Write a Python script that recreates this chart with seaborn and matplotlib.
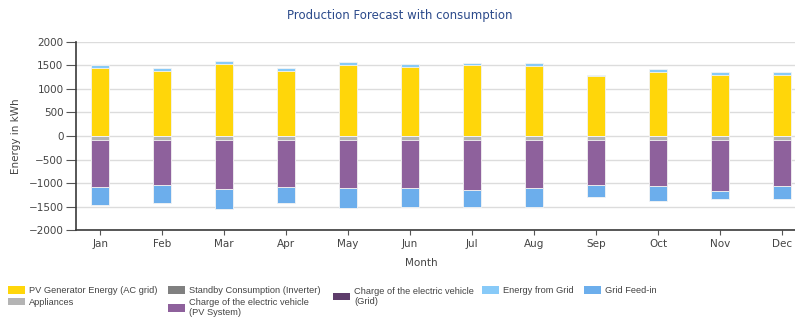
import numpy as np
import pandas as pd
import seaborn as sns
from matplotlib import pyplot as plt
from matplotlib.patches import Patch

# Monthly values in kWh (positive = production/supply, negative = consumption)
months = ["Jan", "Feb", "Mar", "Apr", "May", "Jun",
          "Jul", "Aug", "Sep", "Oct", "Nov", "Dec"]
pv_energy = [1450, 1390, 1525, 1390, 1510, 1475, 1510, 1485, 1270, 1370, 1305, 1305]
energy_from_grid = [50, 45, 65, 55, 60, 50, 45, 70, 35, 45, 65, 45]
standby = [0, 0, 0, 0, 0, 0, 0, 0, 0, 0, 0, 0]
appliances = [-95, -75, -95, -95, -95, -95, -95, -95, -95, -95, -95, -95]
ev_pv = [-995, -975, -1040, -995, -1020, -1020, -1060, -1020, -955, -975, -1080, -975]
ev_grid = [0, 0, 0, 0, 0, 0, 0, 0, 0, 0, 0, 0]
grid_feed_in = [-385, -365, -425, -325, -425, -385, -360, -400, -240, -320, -155, -265]

colors = {
    "PV Generator Energy (AC grid)": "#FFD60A",
    "Appliances": "#B4B4B4",
    "Standby Consumption (Inverter)": "#808080",
    "Charge of the electric vehicle\n(PV System)": "#8E619C",
    "Charge of the electric vehicle\n(Grid)": "#5E3D6B",
    "Energy from Grid": "#88CAF8",
    "Grid Feed-in": "#6CAEEC",
}

df = pd.DataFrame({
    "Month": months,
    "pv": pv_energy,
    "grid": energy_from_grid,
    "standby": standby,
    "appl": appliances,
    "ev_pv": ev_pv,
    "ev_grid": ev_grid,
    "feed": grid_feed_in,
})

# cumulative stacks, drawn from the outermost segment inwards
df["pos_top"] = df["pv"] + df["grid"]
df["neg_1"] = df["standby"] + df["appl"]
df["neg_2"] = df["neg_1"] + df["ev_pv"]
df["neg_3"] = df["neg_2"] + df["ev_grid"]
df["neg_4"] = df["neg_3"] + df["feed"]

sns.set_style("white")
plt.rcParams["font.family"] = ["DejaVu Sans"]

fig = plt.figure(figsize=(7.95, 3.2), dpi=100)
ax = fig.add_axes([0.0956, 0.281, 0.9044, 0.588])

layers = [
    ("pos_top", "Energy from Grid"),
    ("pv", "PV Generator Energy (AC grid)"),
    ("neg_4", "Grid Feed-in"),
    ("neg_3", "Charge of the electric vehicle\n(Grid)"),
    ("neg_2", "Charge of the electric vehicle\n(PV System)"),
    ("neg_1", "Appliances"),
    ("standby", "Standby Consumption (Inverter)"),
]
for col, name in layers:
    sns.barplot(data=df, x="Month", y=col, color=colors[name], width=0.3,
                saturation=1, edgecolor="#F4F4F4", linewidth=0.6, ax=ax,
                zorder=3)

ax.set_xlim(-0.39, 11.21)
ax.set_ylim(-2000, 2000)
ax.set_yticks(np.arange(-2000, 2001, 500))
ax.yaxis.grid(True, color="#DCDCDC", linewidth=1, zorder=0)
ax.set_axisbelow(True)
for s in ["top", "right"]:
    ax.spines[s].set_visible(False)
for s in ["left", "bottom"]:
    ax.spines[s].set_color("#3A3A3A")
    ax.spines[s].set_linewidth(1.2)
ax.tick_params(axis="y", left=True, length=7, width=0.8, color="#555555",
               labelsize=7.5, labelcolor="#444444", pad=2)
ax.tick_params(axis="x", bottom=True, length=3.5, width=0.8, color="#555555",
               labelsize=7.5, labelcolor="#444444", pad=3)

ax.set_xlabel("Month", fontsize=7.5, color="#444444")
ax.xaxis.set_label_coords(0.48, -0.15)
ax.set_ylabel("Energy in kWh", fontsize=7.5, color="#444444")
ax.yaxis.set_label_coords(-0.077, 0.5)
fig.text(0.503, 0.952, "Production Forecast with consumption", ha="center",
         va="center", fontsize=8.5, color="#2B4A8B")

# legend laid out as a flowing row, one small legend per column
legend_cols = [
    (8, ["PV Generator Energy (AC grid)", "Appliances"]),
    (168, ["Standby Consumption (Inverter)", "Charge of the electric vehicle\n(PV System)"]),
    (333, ["Charge of the electric vehicle\n(Grid)"]),
    (482, ["Energy from Grid"]),
    (584, ["Grid Feed-in"]),
]
for x_px, names in legend_cols:
    handles = [Patch(facecolor=colors[n], edgecolor="none", label=n) for n in names]
    top = 0.106 if "\n" not in names[0] else 0.104
    leg = fig.legend(handles=handles, loc="upper left",
                     bbox_to_anchor=(x_px / 795, top), frameon=False,
                     prop={"family": "Liberation Sans", "size": 6.7},
                     handlelength=1.8, handleheight=0.85, handletextpad=0.45,
                     labelspacing=0.3, borderaxespad=0, borderpad=0,
                     labelcolor="#444444")

fig.savefig("out.png", dpi=100)
